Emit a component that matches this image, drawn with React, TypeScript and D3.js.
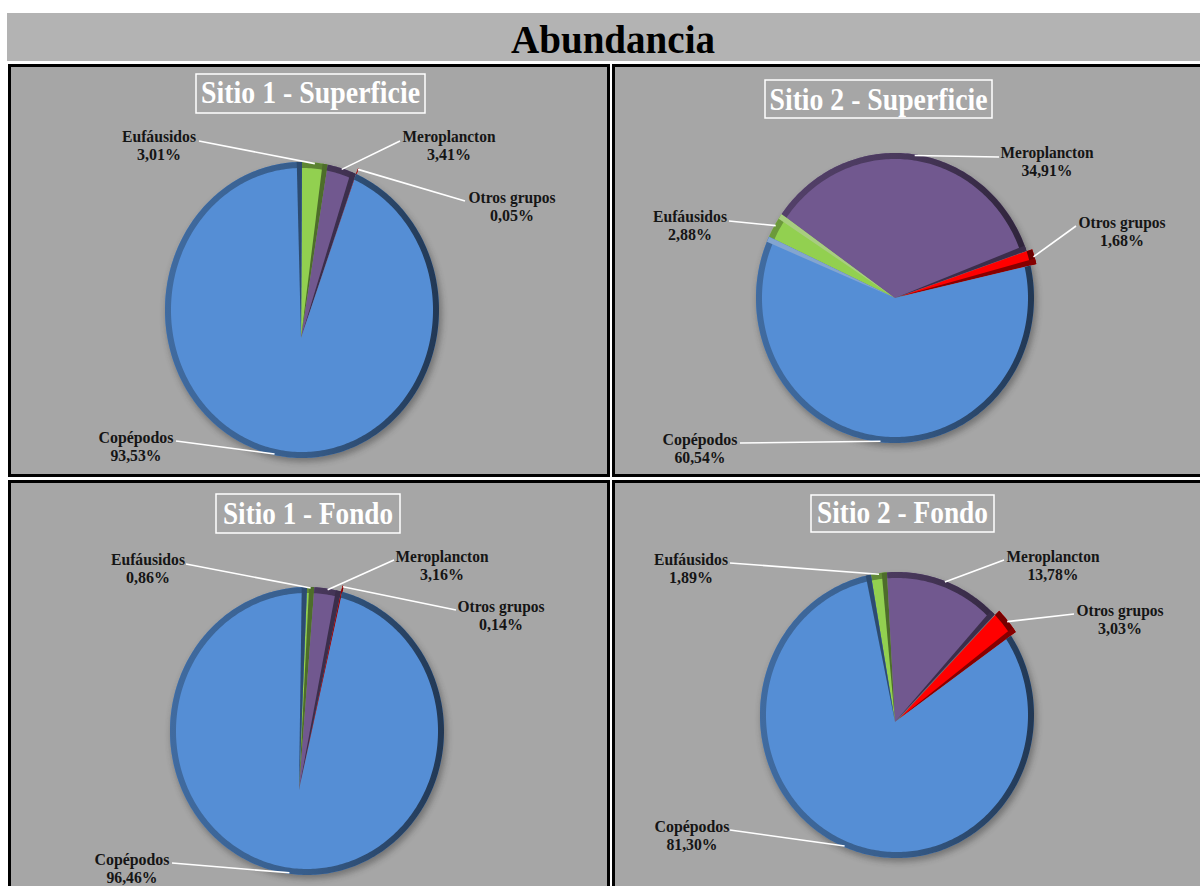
import React from 'react';
import * as d3 from 'd3';

// ---------- data ----------
const categories = ['Eufáusidos', 'Meroplancton', 'Otros grupos', 'Copépodos'];
const sitio1Superficie = [3.01, 3.41, 0.05, 93.53];
const sitio2Superficie = [2.88, 34.91, 1.68, 60.54];
const sitio1Fondo = [0.86, 3.16, 0.14, 96.46];
const sitio2Fondo = [1.89, 13.78, 3.03, 81.3];
const panelTitles = ['Sitio 1 - Superficie', 'Sitio 2 - Superficie', 'Sitio 1 - Fondo', 'Sitio 2 - Fondo'];
const chartTitle = 'Abundancia';

// ---------- style / layout ----------
const sliceColors = ['#92D050', '#71588F', '#FF0000', '#558ED5'];
const nameWidths = [74, 93, 87, 75];
const FONT = '"Liberation Serif", "Times New Roman", serif';

type PieGeom = { cx: number; cy: number; rx: number; ry: number; ax: number; ay: number; start: number };
type PanelCfg = {
  values: number[];
  title: string;
  frame: [number, number, number, number];
  titleBox: [number, number, number, number];
  titleText: [number, number, number];
  pie: PieGeom;
  labels: [number, number, number, number][];
};

const panels: PanelCfg[] = [
  {
    values: sitio1Superficie,
    title: panelTitles[0],
    frame: [8, 64, 602, 413],
    titleBox: [196, 74, 229, 39],
    titleText: [310.5, 103, 219],
    pie: { cx: 302, cy: 310, rx: 137, ry: 148, ax: 301, ay: 338, start: 0 },
    labels: [[159, 142, 199, 141], [449, 142, 400, 141], [512, 203, 465, 201], [136, 443, 176, 441]],
  },
  {
    values: sitio2Superficie,
    title: panelTitles[1],
    frame: [612, 64, 600, 413],
    titleBox: [765, 80, 227, 38],
    titleText: [878.5, 110, 218],
    pie: { cx: 895, cy: 298, rx: 139, ry: 145, ax: 895, ay: 298, start: -65 },
    labels: [[690, 222, 729, 221], [1047, 158, 999, 157], [1122, 228, 1076, 226], [700, 445, 740, 443]],
  },
  {
    values: sitio1Fondo,
    title: panelTitles[2],
    frame: [8, 480, 602, 420],
    titleBox: [216, 494, 184, 39],
    titleText: [308, 524, 170],
    pie: { cx: 307, cy: 731, rx: 137, ry: 144, ax: 299, ay: 790, start: 0 },
    labels: [[148, 565, 186, 564], [442, 562, 394, 560], [501, 612, 456, 610], [132, 865, 172, 863]],
  },
  {
    values: sitio2Fondo,
    title: panelTitles[3],
    frame: [612, 480, 600, 420],
    titleBox: [811, 495, 183, 37],
    titleText: [902.5, 523, 171],
    pie: { cx: 897, cy: 715, rx: 137, ry: 143, ax: 895, ay: 722, start: -11 },
    labels: [[691, 565, 730, 563], [1053, 562, 1004, 560], [1120, 616, 1074, 614], [692, 832, 730, 830]],
  },
];

const fmtPct = (v: number) => d3.format('.2f')(v).replace('.', ',') + '%';
const lineGen = d3.line();

function pt(p: PieGeom, a: number, inset = 0): [number, number] {
  return [p.cx + (p.rx - inset) * Math.sin(a), p.cy - (p.ry - inset) * Math.cos(a)];
}
function arcPts(p: PieGeom, a0: number, a1: number, inset = 0): [number, number][] {
  const n = Math.max(2, Math.ceil(Math.abs(a1 - a0) / (Math.PI / 180)) + 1);
  return d3.range(n).map((i) => pt(p, a0 + ((a1 - a0) * i) / (n - 1), inset));
}

function PiePanel({ cfg, idx }: { cfg: PanelCfg; idx: number }) {
  const p = cfg.pie;
  const startRad = (p.start * Math.PI) / 180;
  const arcs = d3
    .pie<number>()
    .sort(null)
    .startAngle(startRad)
    .endAngle(startRad + 2 * Math.PI)(cfg.values);
  const rimW = 6;
  const wallW = (2.2 * Math.PI) / 180;
  const [fx, fy, fw, fh] = cfg.frame;
  const [bx, by, bw, bh] = cfg.titleBox;
  const [tx, ty, tw] = cfg.titleText;

  return (
    <g>
      <rect x={fx + 1.5} y={fy + 1.5} width={fw - 3} height={fh - 3} fill="#A6A6A6" stroke="#000" strokeWidth={3} />
      <defs>
        {arcs.map((a, i) => {
          const c = d3.color(sliceColors[i])!;
          return (
            <linearGradient key={i} id={`rim-${idx}-${i}`} gradientUnits="userSpaceOnUse" x1={p.cx - p.rx} y1={p.cy} x2={p.cx + p.rx} y2={p.cy}>
              <stop offset="0" stopColor={c.darker(0.8).formatHex()} />
              <stop offset="0.5" stopColor={c.darker(1.2).formatHex()} />
              <stop offset="1" stopColor={c.darker(2.6).formatHex()} />
            </linearGradient>
          );
        })}
      </defs>
      {/* shadow */}
      <ellipse cx={p.cx + 2} cy={p.cy + 4} rx={p.rx + 1} ry={p.ry} fill="#2a2a2a" opacity={0.4} filter="url(#blur)" />
      {arcs.map((a, i) => {
        const mid = (a.startAngle + a.endAngle) / 2;
        const explode = i === 2 ? 6 : 0;
        const dx = explode * Math.sin(mid);
        const dy = -explode * Math.cos(mid);
        const col = d3.color(sliceColors[i])!;
        const slice = lineGen([[p.ax, p.ay], ...arcPts(p, a.startAngle, a.endAngle)]) + 'Z';
        const rim = lineGen([...arcPts(p, a.startAngle, a.endAngle), ...arcPts(p, a.endAngle, a.startAngle, rimW)]) + 'Z';
        const w = Math.min(wallW, a.endAngle - a.startAngle);
        const wall = lineGen([[p.ax, p.ay], ...arcPts(p, a.endAngle - w, a.endAngle)]) + 'Z';
        const light = Math.sin(a.endAngle) < -0.3;
        const wallCol = light
          ? d3.interpolateRgb(sliceColors[i], '#c8c8c8')(0.4)
          : col.darker(1.8).formatHex();
        return (
          <g key={i} transform={`translate(${dx},${dy})`}>
            <path d={slice} fill={sliceColors[i]} />
            <path d={rim} fill={`url(#rim-${idx}-${i})`} />
            <path d={wall} fill={wallCol} />
          </g>
        );
      })}
      {/* leaders & labels */}
      {arcs.map((a, i) => {
        const mid = (a.startAngle + a.endAngle) / 2;
        const explode = i === 2 ? 6 : 0;
        const [ex, ey] = pt(p, mid, 1);
        const end: [number, number] = [ex + explode * Math.sin(mid), ey - explode * Math.cos(mid)];
        const [lx, base, sx, sy] = cfg.labels[i];
        const pct = fmtPct(cfg.values[i]);
        return (
          <g key={'l' + i}>
            <path d={lineGen([[sx, sy], end])!} stroke="#fff" strokeWidth={1.6} fill="none" />
            <text x={lx} y={base} textAnchor="middle" fontFamily={FONT} fontWeight="bold" fontSize={17} fill="#151515"
              textLength={nameWidths[i]} lengthAdjust="spacingAndGlyphs">
              {categories[i]}
            </text>
            <text x={lx} y={base + 18} textAnchor="middle" fontFamily={FONT} fontWeight="bold" fontSize={17} fill="#151515"
              textLength={pct.length === 5 ? 44 : 51} lengthAdjust="spacingAndGlyphs">
              {pct}
            </text>
          </g>
        );
      })}
      {/* panel title */}
      <rect x={bx} y={by} width={bw} height={bh} fill="none" stroke="#fff" strokeWidth={1.5} />
      <text x={tx} y={ty} textAnchor="middle" fontFamily={FONT} fontWeight="bold" fontSize={31} fill="#fff"
        textLength={tw} lengthAdjust="spacingAndGlyphs">
        {cfg.title}
      </text>
    </g>
  );
}

export default function App() {
  return (
    <svg width={1200} height={886} style={{ position: 'absolute', left: 0, top: 0, background: '#fff' }}>
      <defs>
        <filter id="blur" x="-20%" y="-20%" width="140%" height="140%">
          <feGaussianBlur stdDeviation={3} />
        </filter>
      </defs>
      <rect x={0} y={0} width={1200} height={886} fill="#fff" />
      <rect x={7} y={13} width={1193} height={48} fill="#B3B3B3" />
      <text x={613} y={53} textAnchor="middle" fontFamily={FONT} fontWeight="bold" fontSize={40} fill="#000"
        textLength={204} lengthAdjust="spacingAndGlyphs">
        {chartTitle}
      </text>
      <clipPath id="page">
        <rect x={0} y={0} width={1200} height={886} />
      </clipPath>
      <g clipPath="url(#page)">
        {panels.map((cfg, i) => (
          <PiePanel key={i} cfg={cfg} idx={i} />
        ))}
      </g>
    </svg>
  );
}
